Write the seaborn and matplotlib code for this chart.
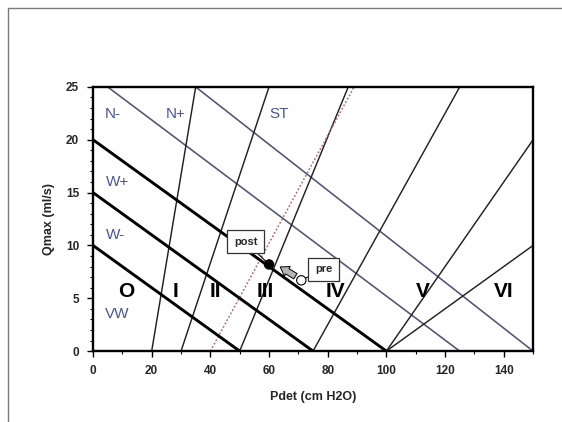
import numpy as np
import pandas as pd
import matplotlib
matplotlib.use("Agg")
import matplotlib.pyplot as plt
from matplotlib.patches import Rectangle
from matplotlib.ticker import MultipleLocator
import seaborn as sns

# thick descending lines (start / end points)
thick_x0 = [0, 0, 0]
thick_y0 = [10, 15, 20]
thick_x1 = [50, 75, 100]
thick_y1 = [0, 0, 0]

# thin descending lines
desc_x0 = [5, 35]
desc_y0 = [25, 25]
desc_x1 = [125, 150]
desc_y1 = [0, 0]

# thin ascending lines
asc_x0 = [20, 30, 50, 75, 100, 100]
asc_y0 = [0, 0, 0, 0, 0, 0]
asc_x1 = [35, 60, 87, 125, 150, 150]
asc_y1 = [25, 25, 25, 25, 20, 10]

# dotted line
dot_x = [40, 89]
dot_y = [0, 25]

# zone labels
zone_names = ["N-", "N+", "ST", "W+", "W-", "VW"]
zone_x = [6.6, 28.3, 63.4, 8.2, 7.6, 8.4]
zone_y = [22.4, 22.4, 22.4, 16.0, 11.0, 3.5]

grade_names = ["O", "I", "II", "III", "IV", "V", "VI"]
grade_x = [11.2, 28.0, 41.7, 58.8, 82.6, 112.4, 139.9]
grade_y = [5.6, 5.6, 5.6, 5.6, 5.6, 5.6, 5.6]

# patient points
pt_names = ["post", "pre"]
pt_x = [60, 71]
pt_y = [8.2, 6.7]
box_x = [52, 78.6]
box_y = [10.35, 7.75]


def segments(x0, y0, x1, y1):
    rows = []
    for i in range(len(x0)):
        rows.append({"seg": i, "x": x0[i], "y": y0[i]})
        rows.append({"seg": i, "x": x1[i], "y": y1[i]})
    return pd.DataFrame(rows)


sns.set_style("white")
plt.rcParams["font.family"] = ["Liberation Sans", "DejaVu Sans"]

fig = plt.figure(figsize=(5.62, 4.22), dpi=100)
ax = fig.add_axes([0.1655, 0.168, 0.783, 0.626])

line_kw = dict(x="x", y="y", units="seg", estimator=None, sort=False, ax=ax, legend=False)
sns.lineplot(data=segments(desc_x0, desc_y0, desc_x1, desc_y1), color="#50556f", lw=1.15, **line_kw)
sns.lineplot(data=segments(asc_x0, asc_y0, asc_x1, asc_y1), color="#222222", lw=1.05, **line_kw)
sns.lineplot(data=segments([dot_x[0]], [dot_y[0]], [dot_x[1]], [dot_y[1]]),
             color="#b86a6a", lw=1.1, linestyle=(0, (1.2, 1.3)), **line_kw)
sns.lineplot(data=segments(thick_x0, thick_y0, thick_x1, thick_y1), color="black", lw=2.1, **line_kw)

for name, x, y in zip(zone_names, zone_x, zone_y):
    ax.text(x, y, name, fontsize=11, color="#4a5590", ha="center", va="center")
for name, x, y in zip(grade_names, grade_x, grade_y):
    ax.text(x, y, name, fontsize=15, fontweight="bold", color="black", ha="center", va="center")

# arrow from pre to post
ax.annotate("", xy=(63.0, 8.1), xytext=(69.8, 6.95),
            arrowprops=dict(arrowstyle="simple,head_width=0.8,head_length=0.6,tail_width=0.45",
                            fc="#b5b5b5", ec="black", lw=0.7))

pts = pd.DataFrame({"name": pt_names, "x": pt_x, "y": pt_y})
sns.scatterplot(data=pts, x="x", y="y", hue="name", palette={"post": "black", "pre": "white"},
                edgecolor="black", linewidth=0.8, s=45, ax=ax, legend=False, zorder=5)

for name, x, y, bx, by in zip(pt_names, pt_x, pt_y, box_x, box_y):
    ax.annotate(name, xy=(x, y), xytext=(bx, by), ha="center", va="center", fontsize=8,
                fontweight="bold",
                bbox=dict(boxstyle="square,pad=0.6", fc="white", ec="#333333", lw=0.9),
                arrowprops=dict(arrowstyle="-", color="black", lw=0.8, shrinkA=0, shrinkB=3))

ax.set_xlim(0, 150)
ax.set_ylim(0, 25)
ax.xaxis.set_major_locator(MultipleLocator(20))
ax.xaxis.set_minor_locator(MultipleLocator(10))
ax.yaxis.set_major_locator(MultipleLocator(5))
ax.yaxis.set_minor_locator(MultipleLocator(1))
ax.tick_params(which="major", direction="out", length=4, width=1, color="black",
               labelsize=8.5, pad=6)
ax.tick_params(which="minor", direction="out", length=2.5, width=0.8, color="black")
ax.tick_params(axis="x", which="both", bottom=True)
ax.tick_params(axis="y", which="both", left=True)
for lbl in ax.get_xticklabels() + ax.get_yticklabels():
    lbl.set_fontweight("bold")
for sp in ax.spines.values():
    sp.set_color("black")
    sp.set_linewidth(1.7)

ax.set_xlabel("Pdet (cm H2O)", fontsize=9, fontweight="bold", labelpad=10)
ax.set_ylabel("Qmax (ml/s)", fontsize=9, fontweight="bold", labelpad=8)

# outer frame of the pasted picture
fig.add_artist(Rectangle((8 / 562, -0.1), 1.2, 1.1 - 8 / 422, transform=fig.transFigure,
                         fill=False, ec="#7a7a7a", lw=1.0))

fig.savefig("out.png", dpi=100)
